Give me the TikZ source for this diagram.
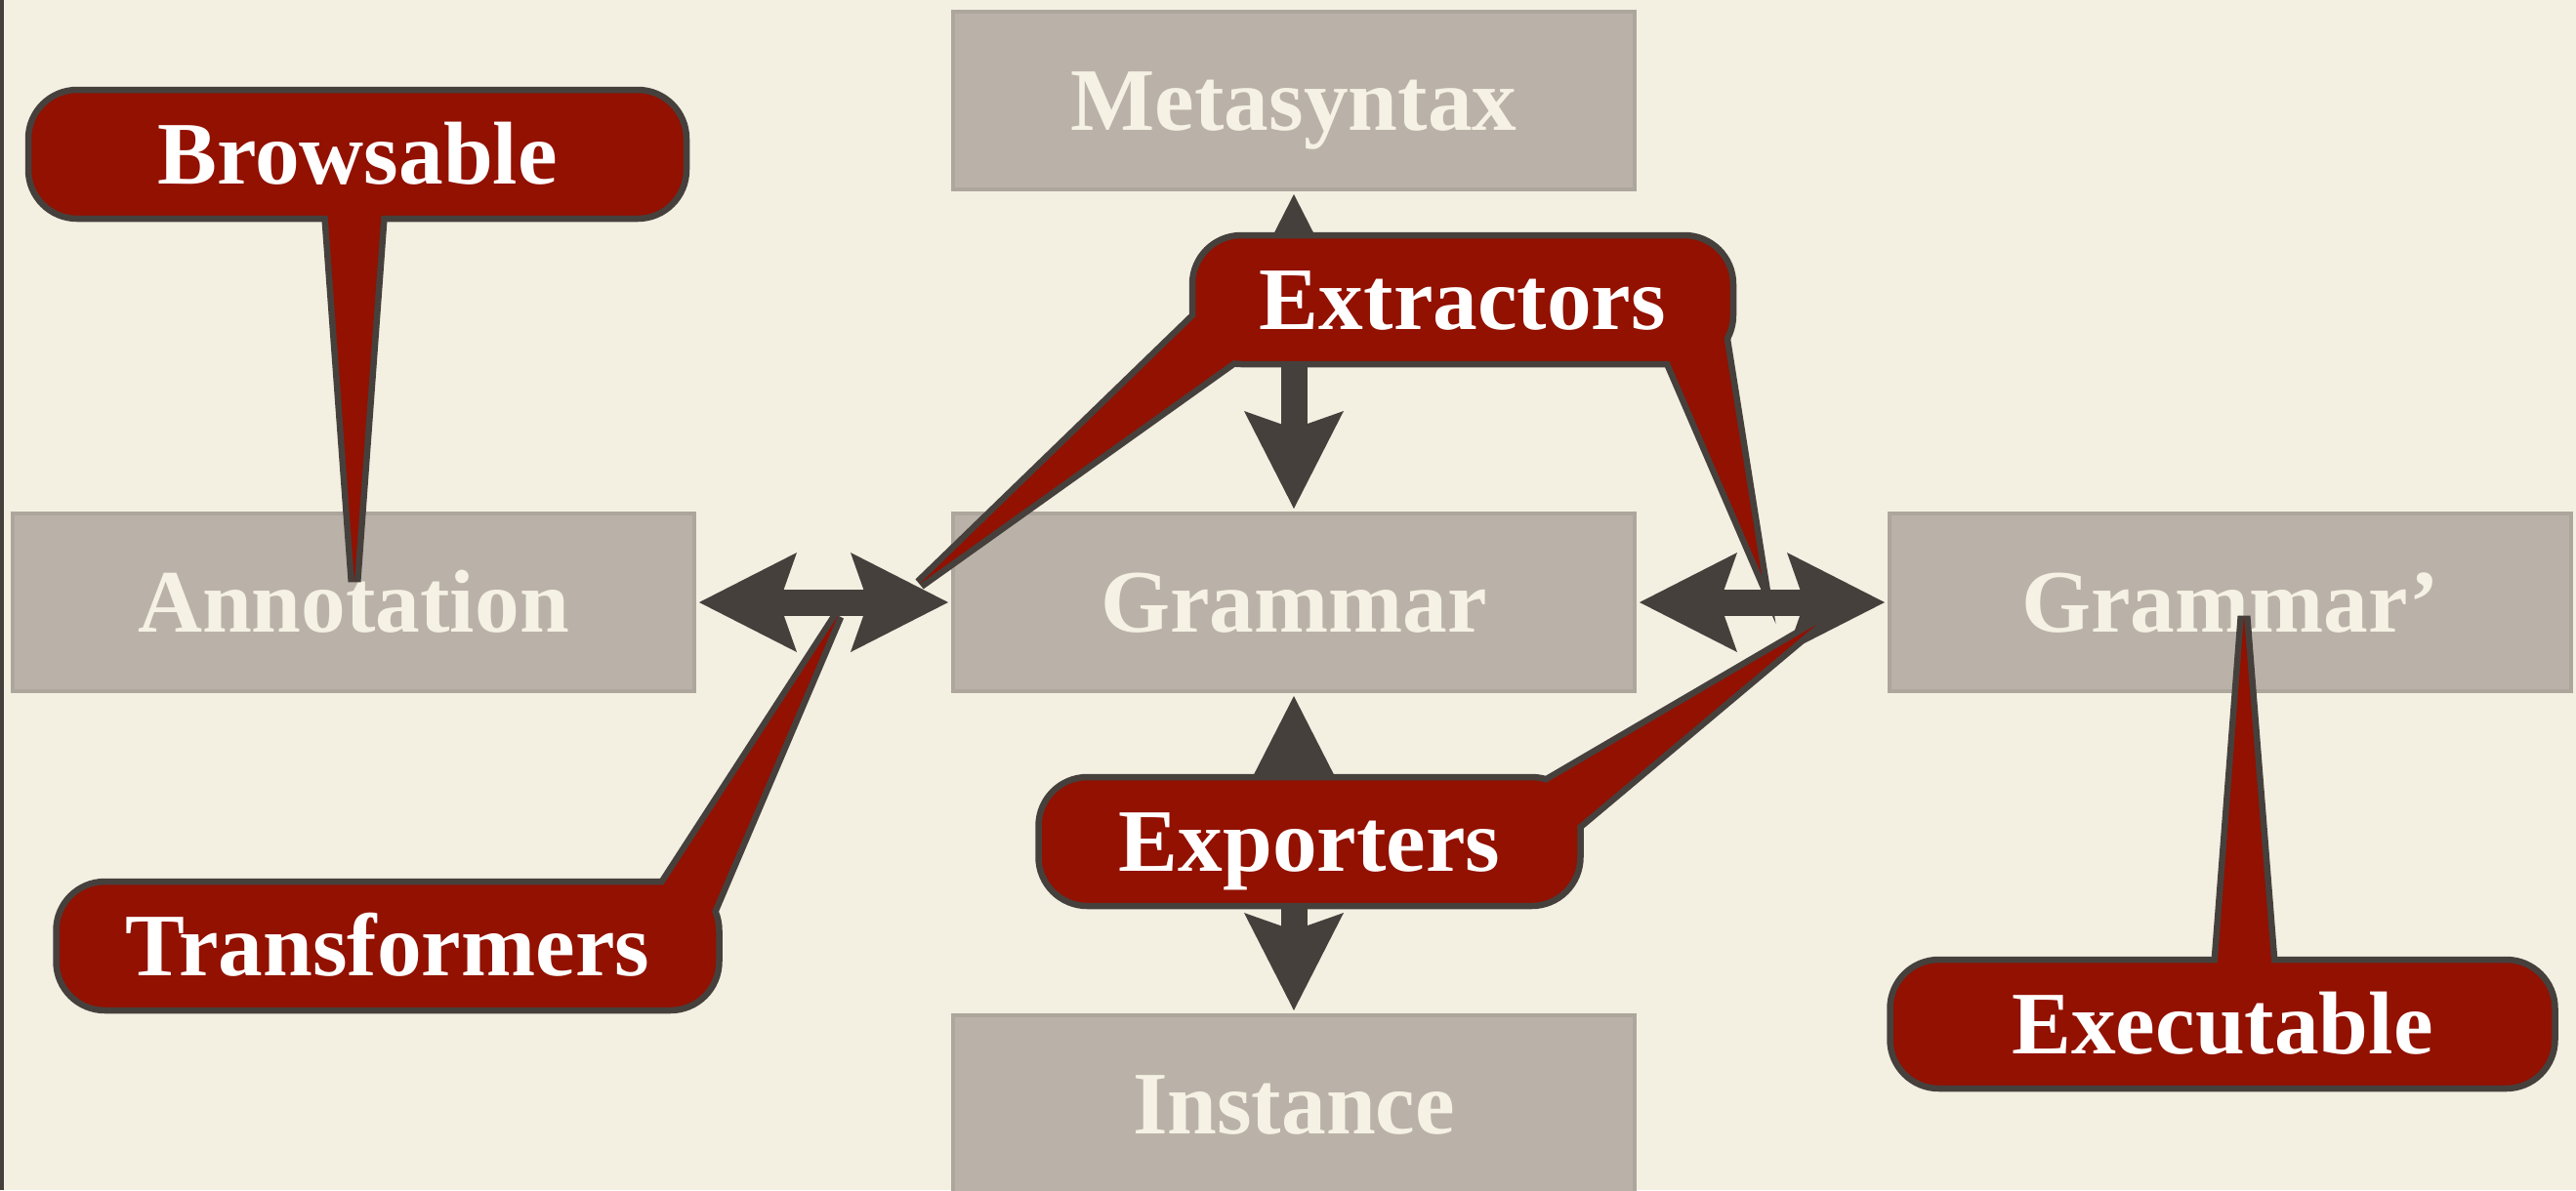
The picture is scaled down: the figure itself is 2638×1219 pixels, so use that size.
\documentclass[tikz,border=0pt]{standalone}
\usepackage{fontspec}
\setmainfont{Liberation Serif}
\usepackage{xcolor}
\usetikzlibrary{arrows.meta,calc}
\definecolor{paper}{HTML}{F3EFE1}
\definecolor{boxfill}{HTML}{BAB2A8}
\definecolor{boxedge}{HTML}{ADA69C}
\definecolor{boxtext}{HTML}{F5F1E4}
\definecolor{tagred}{HTML}{921100}
\definecolor{inkgray}{HTML}{46403D}
\pgfdeclarelayer{tailedge}
\pgfdeclarelayer{tags}
\pgfdeclarelayer{tailfill}
\pgfsetlayers{main,tailedge,tags,tailfill}
\newcommand\tagtail[3]{%
  \begin{pgfonlayer}{tailedge}\draw[tailline] #1 -- #2 -- #3;\end{pgfonlayer}
  \begin{pgfonlayer}{tailfill}\fill[tagred] #1 -- #2 -- #3 -- cycle;\end{pgfonlayer}}

\begin{document}
\begin{tikzpicture}[
  x=0.1mm, y=-0.1mm,
  block/.style={rectangle, fill=boxfill, draw=boxedge, line width=0.4mm, inner sep=0pt,
                minimum width=69.8mm, minimum height=18.2mm, text=boxtext,
                font=\fontsize{26}{30}\selectfont\bfseries, text height=17.2pt, text depth=0pt},
  tag/.style={rectangle, rounded corners=5mm, fill=tagred, draw=inkgray, line width=0.65mm,
              inner sep=0pt, minimum height=13.2mm, text=white,
              font=\fontsize{26}{30}\selectfont\bfseries, text height=17.2pt, text depth=0pt},
  tailline/.style={draw=inkgray, line width=1.3mm},
  fat/.style={{Stealth[length=10mm,width=10.2mm,inset=1.8mm,line width=0pt]}-{Stealth[length=10mm,width=10.2mm,inset=1.8mm,line width=0pt]},
              draw=inkgray, line width=2.7mm, shorten <=0.3mm, shorten >=0.3mm}
]
  \fill[paper] (0,0) rectangle (2638,1219);
  \useasboundingbox (0,0) rectangle (2638,1219);
  \draw[inkgray, line width=0.4mm] (2,0) -- (2,1219);

  \node[block] (meta)  at (1325,103)  {Metasyntax};
  \node[block] (anno)  at (362,617)   {Annotation};
  \node[block] (gram)  at (1325,617)  {Grammar};
  \node[block] (gramp) at (2284,617)  {Grammar’};
  \node[block] (inst)  at (1325,1131) {Instance};

  \draw[fat] (meta) -- (gram);
  \draw[fat] (gram) -- (inst);
  \draw[fat] (anno) -- (gram);
  \draw[fat] (gram) -- (gramp);

  \coordinate (brwtip)  at (363,596);
  \coordinate (extrtipa) at (942,598);
  \coordinate (extrtipb) at (1804,589);
  \coordinate (expotip) at (1860,640);
  \coordinate (transtip) at (858,631);
  \coordinate (exectip) at (2298,631);

  \begin{pgfonlayer}{tags}
    \node[tag, minimum width=67.4mm] (brw)   at (366,158)  {Browsable};
    \node[tag, minimum width=55.4mm] (extr)  at (1498,307) {Extractors};
    \node[tag, minimum width=55.5mm] (expo)  at (1341,862) {Exporters};
    \node[tag, minimum width=67.9mm] (trans) at (397,969)  {Transformers};
    \node[tag, minimum width=68.1mm] (exec)  at (2276,1049) {Executable};
  \end{pgfonlayer}

  \tagtail{($(brw.south)+(-31,-15)$)}{(brwtip)}{($(brw.south)+(25,-15)$)}
  \tagtail{($(extr.south west)+(14,-59)$)}{(extrtipa)}{($(extr.south west)+(52,-12)$)}
  \tagtail{($(extr.south east)+(-73,-16)$)}{(extrtipb)}{($(extr.south east)+(-14,-38)$)}
  \tagtail{($(expo.north east)+(-50,16)$)}{(expotip)}{($(expo.north east)+(-15,60)$)}
  \tagtail{($(trans.north east)+(-67,17)$)}{(transtip)}{($(trans.north east)+(-15,44)$)}
  \tagtail{($(exec.north)+(-6,17)$)}{(exectip)}{($(exec.north)+(51,17)$)}
\end{tikzpicture}
\end{document}
